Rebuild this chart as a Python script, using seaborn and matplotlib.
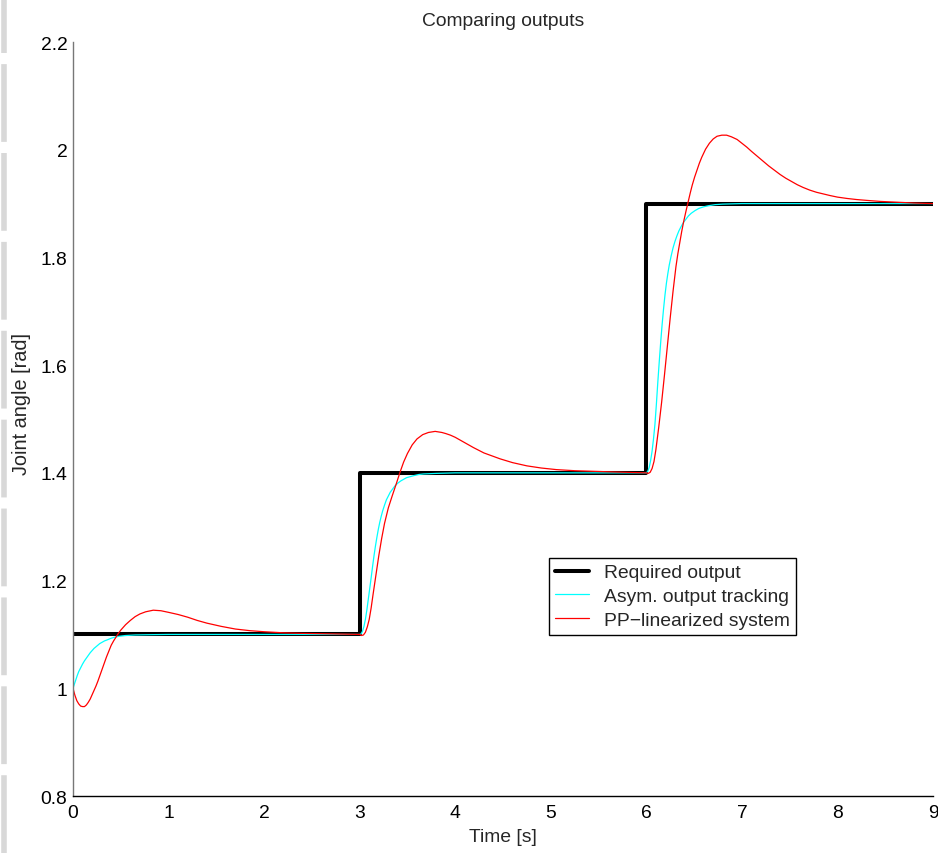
import matplotlib
matplotlib.use("Agg")
import matplotlib.pyplot as plt
from matplotlib.lines import Line2D
import seaborn as sns
import pandas as pd

# ---------------- data ----------------
ref_t = [0, 3, 3, 6, 6, 9]
ref_v = [1.1, 1.1, 1.4, 1.4, 1.9, 1.9]

asym_t = [0.00, 0.015, 0.03, 0.045, 0.06, 0.08, 0.10, 0.12, 0.14, 0.16, 0.18, 0.20, 0.22, 0.24, 0.26, 0.28, 0.30,
          0.33, 0.36, 0.40, 0.44, 0.48, 0.55, 0.65, 0.80, 1.00, 3.00,
          3.015, 3.03, 3.045, 3.06, 3.075, 3.09, 3.105, 3.12, 3.135, 3.15, 3.165, 3.18, 3.195, 3.21, 3.225, 3.24,
          3.26, 3.28, 3.30, 3.32, 3.345, 3.37, 3.40, 3.43, 3.46, 3.49, 3.53, 3.57, 3.62, 3.67, 3.74, 3.80, 3.90, 4.00, 6.00,
          6.015, 6.03, 6.045, 6.06, 6.075, 6.09, 6.105, 6.12, 6.135, 6.15, 6.165, 6.18, 6.195, 6.21, 6.225, 6.24,
          6.26, 6.28, 6.30, 6.32, 6.34, 6.36, 6.385, 6.41, 6.44, 6.47, 6.51, 6.55, 6.60, 6.65, 6.72, 6.80, 6.90, 7.00, 9.00]
asym_v = [1.000, 1.008, 1.016, 1.024, 1.031, 1.038, 1.045, 1.051, 1.056, 1.061, 1.066, 1.070, 1.074, 1.077, 1.080, 1.083, 1.085,
          1.088, 1.090, 1.093, 1.095, 1.0965, 1.098, 1.099, 1.0995, 1.100, 1.100,
          1.101, 1.106, 1.115, 1.128, 1.145, 1.165, 1.185, 1.205, 1.226, 1.246, 1.264, 1.280, 1.295, 1.308, 1.319, 1.329,
          1.340, 1.350, 1.357, 1.364, 1.370, 1.376, 1.381, 1.385, 1.388, 1.391, 1.393, 1.395, 1.397, 1.398, 1.3985, 1.399, 1.3995, 1.400, 1.400,
          1.403, 1.410, 1.423, 1.440, 1.463, 1.490, 1.527, 1.568, 1.606, 1.642, 1.675, 1.704, 1.730, 1.752, 1.770, 1.786,
          1.803, 1.818, 1.830, 1.840, 1.849, 1.856, 1.864, 1.870, 1.877, 1.882, 1.887, 1.891, 1.894, 1.896, 1.898, 1.899, 1.8995, 1.900, 1.900]

pp_t = [0.00, 0.02, 0.04, 0.06, 0.08, 0.10, 0.12, 0.14, 0.16, 0.18, 0.20, 0.22, 0.24, 0.26, 0.28, 0.30, 0.325, 0.35,
        0.375, 0.40, 0.425, 0.45, 0.475, 0.50, 0.55, 0.60, 0.65, 0.70, 0.76, 0.84, 0.92, 1.00, 1.10, 1.20, 1.30, 1.40,
        1.55, 1.70, 1.85, 2.00, 2.20, 2.40, 2.70, 3.00,
        3.02, 3.04, 3.06, 3.08, 3.10, 3.12, 3.14, 3.17, 3.20, 3.23, 3.26, 3.30, 3.34, 3.38, 3.42, 3.44, 3.46, 3.48,
        3.50, 3.55, 3.60, 3.66, 3.72, 3.79, 3.86, 3.90, 3.95, 4.00, 4.05, 4.12, 4.19, 4.30, 4.47, 4.60, 4.75, 4.90,
        5.06, 5.25, 5.41, 5.60, 5.80, 6.00,
        6.02, 6.04, 6.06, 6.08, 6.10, 6.13, 6.16, 6.19, 6.22, 6.25, 6.28, 6.31, 6.33, 6.35, 6.37, 6.39, 6.415, 6.44,
        6.46, 6.48, 6.505, 6.53, 6.555, 6.58, 6.62, 6.66, 6.70, 6.74, 6.79, 6.84, 6.89, 6.95, 7.00, 7.05, 7.10, 7.16,
        7.22, 7.28, 7.34, 7.40, 7.46, 7.52, 7.58, 7.64, 7.71, 7.78, 7.85, 7.92, 8.00, 8.10, 8.20, 8.30, 8.45, 8.62, 8.80, 9.00]
pp_v = [1.000, 0.987, 0.977, 0.971, 0.967, 0.966, 0.966, 0.969, 0.974, 0.980, 0.988, 0.996, 1.004, 1.013, 1.023, 1.033, 1.046, 1.058,
        1.069, 1.080, 1.088, 1.095, 1.102, 1.108, 1.118, 1.126, 1.133, 1.138, 1.142, 1.145, 1.144, 1.141, 1.137, 1.132, 1.126, 1.121,
        1.115, 1.110, 1.107, 1.105, 1.103, 1.102, 1.101, 1.100,
        1.098, 1.099, 1.104, 1.114, 1.128, 1.149, 1.174, 1.210, 1.246, 1.278, 1.306, 1.335, 1.357, 1.378, 1.400, 1.410, 1.420, 1.428,
        1.436, 1.452, 1.463, 1.471, 1.475, 1.477, 1.475, 1.473, 1.470, 1.466, 1.461, 1.454, 1.447, 1.437, 1.426, 1.419, 1.413, 1.409,
        1.406, 1.404, 1.403, 1.402, 1.401, 1.400,
        1.399, 1.401, 1.408, 1.421, 1.443, 1.485, 1.531, 1.582, 1.636, 1.688, 1.738, 1.783, 1.807, 1.828, 1.848, 1.866, 1.886, 1.905,
        1.920, 1.934, 1.949, 1.962, 1.975, 1.986, 2.001, 2.012, 2.020, 2.025, 2.027, 2.027, 2.024, 2.019, 2.012, 2.005, 1.997, 1.988,
        1.979, 1.970, 1.962, 1.954, 1.947, 1.941, 1.935, 1.930, 1.925, 1.921, 1.918, 1.915, 1.912, 1.9095, 1.9075, 1.906, 1.904, 1.9025, 1.901, 1.900]

series_names = ["Required output", "Asym. output tracking", "PP\u2212linearized system"]
xticks = [0, 1, 2, 3, 4, 5, 6, 7, 8, 9]
xtick_labels = ["0", "1", "2", "3", "4", "5", "6", "7", "8", "9"]
yticks = [0.8, 1.0, 1.2, 1.4, 1.6, 1.8, 2.0, 2.2]
ytick_labels = ["0.8", "1", "1.2", "1.4", "1.6", "1.8", "2", "2.2"]

# ---------------- style ----------------
sns.set_style("white")
plt.rcParams["font.family"] = ["Liberation Sans", "DejaVu Sans"]
FS = 13.9

fig = plt.figure(figsize=(9.38, 8.54), dpi=100)
ax = fig.add_axes([73 / 938, 1 - 797 / 854, 860 / 938, 754 / 854])

ref_df = pd.DataFrame({"t": ref_t, "v": ref_v})
asym_df = pd.DataFrame({"t": asym_t, "v": asym_v})
pp_df = pd.DataFrame({"t": pp_t, "v": pp_v})

sns.lineplot(data=ref_df, x="t", y="v", sort=False, estimator=None, color="black",
             linewidth=2.9, ax=ax, label=series_names[0])
sns.lineplot(data=asym_df, x="t", y="v", sort=False, estimator=None, color="#00ffff",
             linewidth=0.9, ax=ax, label=series_names[1])
sns.lineplot(data=pp_df, x="t", y="v", sort=False, estimator=None, color="#ff0000",
             linewidth=0.9, ax=ax, label=series_names[2])

ax.set_xlim(0, 9)
ax.set_ylim(0.8, 2.2)
ax.set_xticks(xticks)
ax.set_xticklabels(xtick_labels)
ax.set_yticks(yticks)
ax.set_yticklabels(ytick_labels)

for s in ["top", "right"]:
    ax.spines[s].set_visible(False)
ax.spines["left"].set_color("#777777")
ax.spines["left"].set_linewidth(1.0)
ax.spines["bottom"].set_color("black")
ax.spines["bottom"].set_linewidth(1.0)

ax.tick_params(axis="both", direction="in", length=6, width=1, labelsize=FS, labelcolor="black")
ax.tick_params(axis="y", colors="#555555", labelcolor="black", pad=4)
ax.tick_params(axis="x", colors="#333333", labelcolor="black", pad=6)

ax.set_title("Comparing outputs", fontsize=FS, pad=12)
ax.set_xlabel("Time [s]", fontsize=FS)
ax.set_ylabel("Joint angle [rad]", fontsize=14.3)
ax.xaxis.set_label_coords(0.5, -0.043)
ax.yaxis.set_label_coords(-0.049, 0.521)

leg = ax.legend(loc="upper left", bbox_to_anchor=(0.5535, 0.3156), borderaxespad=0,
                frameon=True, fancybox=False, edgecolor="black", framealpha=1,
                handlelength=1.75, handletextpad=0.8, labelspacing=0.33,
                borderpad=0.3, fontsize=FS)
leg.get_frame().set_linewidth(1.0)

# light dashed scan edge at the left border
fig.add_artist(Line2D([0.004, 0.004], [0, 1], transform=fig.transFigure,
                      color="#d8d8d8", linewidth=4, dashes=(14, 2)))

fig.savefig("out.png", dpi=100)
